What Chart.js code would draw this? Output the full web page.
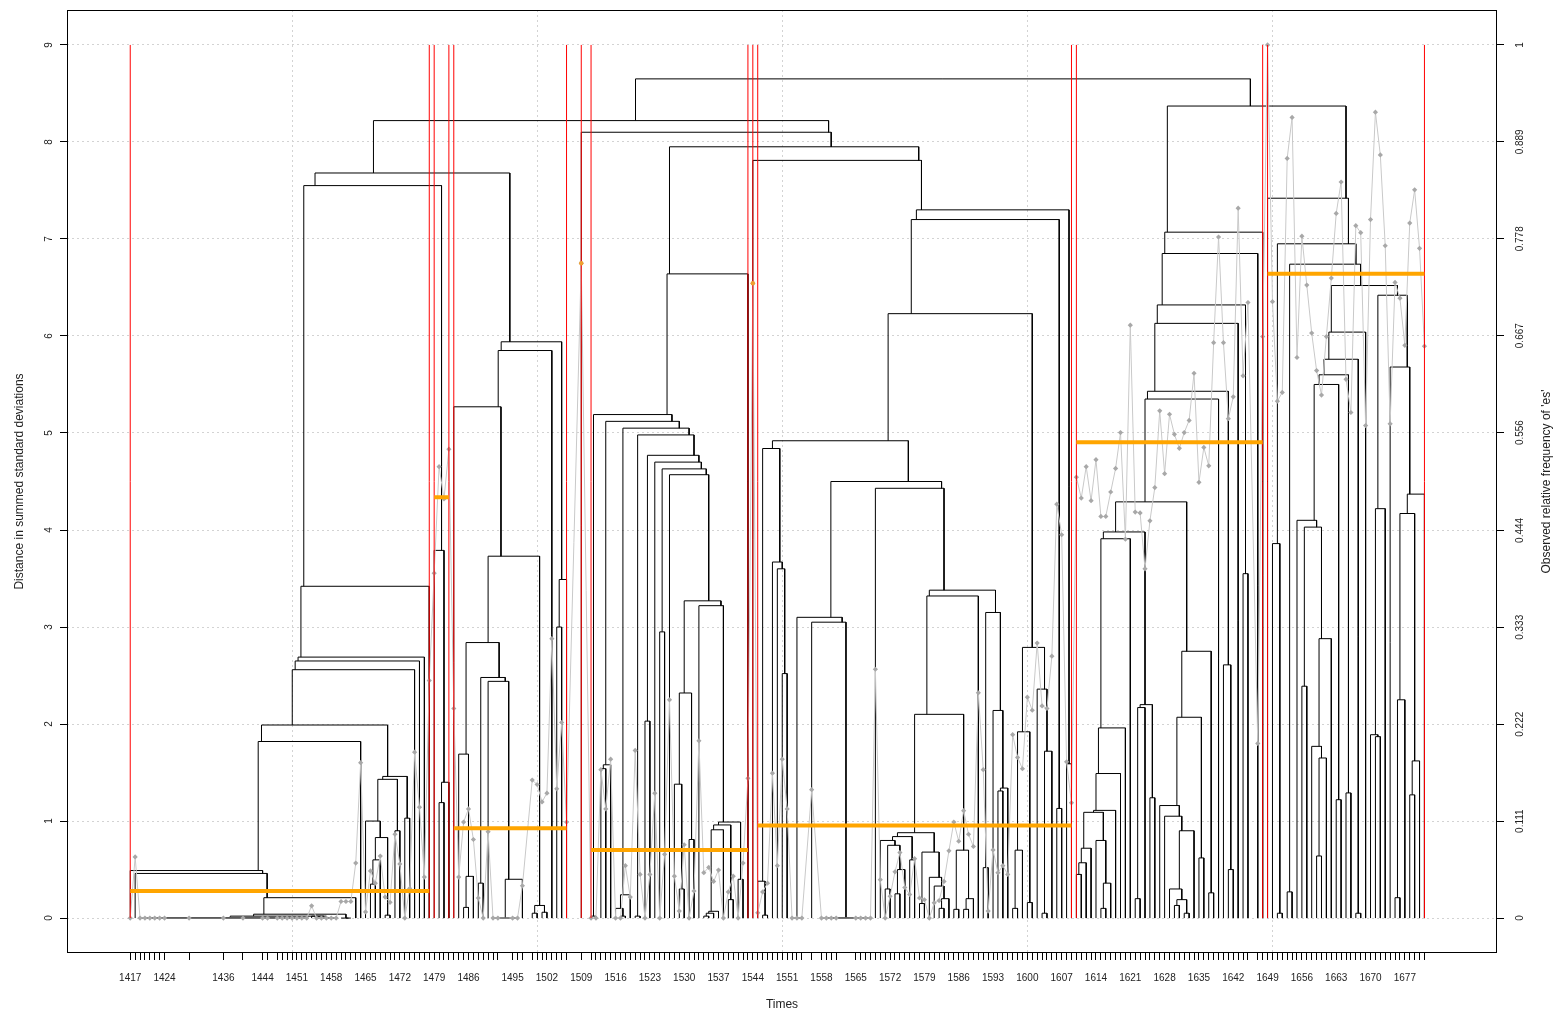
<!DOCTYPE html>
<html>
<head>
<meta charset="utf-8">
<script src="https://cdn.jsdelivr.net/npm/chart.js@4/dist/chart.umd.min.js"></script>
<style>
  html, body { margin: 0; padding: 0; background: #fff; }
  #wrap { width: 1556px; height: 1013px; }
</style>
</head>
<body>
<div id="wrap"><canvas id="c" width="1556" height="1013"></canvas></div>
<script>
// Observed years (dendrogram leaves), grouped by period
const years = [
  // 1417-1478
  1417,1418,1419,1420,1421,1422,1423,1424,1429,1436,1440,1444,1445,
  1447,1448,1449,1450,1451,1452,1453,1454,1455,1456,1457,1458,1459,1460,1461,1462,
  1463,1464,1465,1466,1467,1468,1469,1470,1471,1472,1473,1474,1475,1476,1477,1478,
  // 1479-1482
  1479,1480,1481,1482,
  // 1483-1506
  1483,1484,1485,1486,1487,1488,1489,1490,1491,1492,1495,1496,1497,1499,1500,1501,1502,1503,1504,1505,1506,
  // 1509
  1509,
  // 1511-1543
  1511,1512,1513,1514,1515,1516,1517,1518,1519,1520,1521,1522,1523,1524,1525,1526,1527,
  1528,1529,1530,1531,1532,1533,1534,1535,1536,1537,1538,1539,1540,1541,1542,1543,
  // 1544
  1544,
  // 1545-1609
  1545,1546,1547,1548,1549,1550,1551,1552,1553,1554,1556,1558,1559,1560,1561,1565,1566,1567,1568,
  1569,1570,1571,1572,1573,1574,1575,1576,1577,1578,1579,1580,1581,1582,1583,1584,1585,1586,1587,
  1588,1589,1590,1591,1592,1593,1594,1595,1596,1597,1598,1599,1600,1601,1602,1603,1604,1605,1606,
  1607,1608,1609,
  // 1610-1648
  1610,1611,1612,1613,1614,1615,1616,1617,1618,1619,1620,1621,1622,1623,1624,1625,1626,1627,1628,
  1629,1630,1631,1632,1633,1634,1635,1636,1637,1638,1639,1640,1641,1642,1643,1644,1645,1647,1648,
  // 1649-1681
  1649,1650,1651,1652,1653,1654,1655,1656,1657,1658,1659,1660,1661,1662,1663,1664,1665,1666,1667,
  1668,1669,1670,1671,1672,1673,1674,1675,1676,1677,1678,1679,1680,1681
];

// Observed relative frequency of 'es' per year
const freq = [
  0,0.07,0,0,0,0,0,0,0,0,0,0,0,
  0,0,0,0,0,0,0,0.014,0,0,0,0,0,0.019,0.019,0.019,
  0.063,0.178,0.007,0.054,0.04,0.071,0.024,0.018,0.096,0.062,0,0.034,0.19,0.127,0.047,0.272,
  0.395,0.517,0.48,0.537,
  0.24,0.047,0.11,0.125,0.09,0.023,0,0.099,0,0,0,0,0.037,0.158,0.153,0.133,0.143,0.32,0.148,0.224,0.11,
  0.75,
  0,0,0.17,0.125,0.182,0,0,0.06,0.024,0.192,0.05,0,0.05,0.143,0,0.073,0.25,
  0.048,0.008,0.084,0,0.031,0.203,0.052,0.058,0.042,0.055,0,0.03,0.048,0,0.063,0.16,
  0.727,
  0.006,0.03,0.04,0.166,0.06,0.182,0.125,0,0,0,0.147,0,0,0,0,0,0,0,0,
  0.285,0.044,0,0.025,0.053,0.075,0.035,0.027,0.068,0.023,0.021,0,0.0175,0.02,0.042,0.077,0.11,0.088,0.123,
  0.096,0.082,0.258,0.17,0.008,0.078,0.052,0.06,0.05,0.21,0.184,0.171,0.253,0.238,0.315,0.243,0.24,0.3,0.474,
  0.439,0.179,0.132,
  0.505,0.481,0.517,0.478,0.525,0.46,0.46,0.488,0.515,0.556,0.434,0.679,0.465,0.464,0.4,0.455,0.493,0.581,0.509,
  0.577,0.554,0.538,0.556,0.57,0.624,0.499,0.539,0.518,0.659,0.78,0.659,0.572,0.597,0.813,0.621,0.705,0.2,0.666,
  1.0,0.706,0.592,0.602,0.87,0.917,0.642,0.781,0.725,0.67,0.627,0.599,0.666,0.733,0.807,0.843,0.617,0.579,0.793,
  0.785,0.564,0.8,0.923,0.874,0.77,0.566,0.728,0.71,0.656,0.796,0.834,0.767,0.655
];

// Fusion height between each pair of neighbouring years (summed standard deviations)
const mergeHeights = [
  // within 1417-1478
  0.49,0.46,0,0,0,0,0,0,0,0,0,0,0,0,0,0,0,0,0,0.02,0.02,0,0,0,0,0.04,0,0,
  0.21,1.82,1.99,1.0,0.35,0.6,0.83,0.03,1.43,0.9,1.46,1.03,2.56,2.65,2.69,3.42,
  7.55,
  // within 1479-1482
  3.79,1.19,1.4,
  7.68,
  // within 1483-1506
  5.27,1.69,0.11,0.43,2.84,0.36,2.48,2.44,0,0,0,0.4,3.73,0.05,0.13,0.06,5.85,5.94,3.0,3.49,
  8.22,
  8.1,
  // within 1511-1543
  0.02,5.19,1.54,1.58,5.12,0.1,0.02,0.24,5.05,0.02,4.98,2.03,4.77,4.70,2.95,4.63,4.57,
  1.38,0.3,2.32,0.81,3.27,3.22,0.02,0.05,0.07,0.91,0.96,0.19,0.99,0.4,6.64,
  7.95,
  7.81,
  // within 1545-1609
  0.38,0.03,4.84,3.67,3.6,2.52,4.92,0,0,3.1,3.05,0,0,0,0,0,0,0,4.5,
  4.43,0.8,0.3,0.75,0.25,0.5,0.84,0.6,0.88,0.15,0.68,0.42,0.33,0.1,0.2,2.1,0.09,0.7,0.09,0.2,
  3.32,3.38,0.52,3.15,2.14,1.31,1.34,6.23,0.1,0.7,1.92,0.16,2.79,2.36,0.05,1.72,7.2,1.13,7.3,1.59,
  8.65,
  // within 1610-1648
  0.45,0.57,0.72,1.09,0.8,0.1,0.36,1.11,1.49,1.96,3.91,3.98,0.2,2.17,2.2,1.24,4.29,1.16,1.05,
  0.3,0.13,0.19,0.05,0.9,2.07,0.62,2.75,0.26,5.35,5.43,2.61,0.5,6.13,6.32,3.55,6.85,7.07,
  8.37,
  // within 1649-1681
  7.42,3.86,0.05,6.95,0.27,6.74,4.1,2.39,4.03,1.77,0.64,1.65,2.88,5.5,1.22,5.6,1.29,5.76,0.05,
  6.04,6.52,1.89,1.87,4.22,6.42,5.68,0.21,2.25,4.17,1.27,1.62,4.37
];

// Periods found by the clustering and their mean frequency
const periodStart = [1417, 1479, 1483, 1509, 1511, 1544, 1545, 1610, 1649];
const periodEnd   = [1478, 1482, 1506, 1509, 1543, 1544, 1609, 1648, 1681];
const periodMean  = [0.031, 0.482, 0.103, 0.75, 0.078, 0.727, 0.106, 0.545, 0.738];

// Axis labels
const xTickLabels = [1417,1424,1436,1444,1451,1458,1465,1472,1479,1486,1495,1502,1509,1516,1523,1530,1537,
  1544,1551,1558,1565,1572,1579,1586,1593,1600,1607,1614,1621,1628,1635,1642,1649,1656,1663,1670,1677];
const leftTickLabels = ['0','1','2','3','4','5','6','7','8','9'];
const rightTickLabels = ['0','0.111','0.222','0.333','0.444','0.556','0.667','0.778','0.889','1'];
const gridYears = [1450, 1500, 1550, 1600, 1650];
const boundaryTop = 9;

const FONT = '"Liberation Sans", Arial, Helvetica, sans-serif';

// Dendrogram: split each run of years at its largest fusion height; a node sits at the mean of its years
const dendroSegments = [];
function buildNode(lo, hi) {
  if (lo === hi) return { x: years[lo], h: 0, n: 1, s: years[lo] };
  let k = lo;
  for (let i = lo + 1; i < hi; i++) if (mergeHeights[i] > mergeHeights[k]) k = i;
  const a = buildNode(lo, k);
  const b = buildNode(k + 1, hi);
  const h = mergeHeights[k];
  dendroSegments.push(
    { x: a.x, y: a.h }, { x: a.x, y: h }, { x: b.x, y: h }, { x: b.x, y: b.h }, { x: b.x, y: null }
  );
  return { x: (a.s + b.s) / (a.n + b.n), h: h, n: a.n + b.n, s: a.s + b.s };
}
buildNode(0, years.length - 1);

const freqPoints = years.map((yr, i) => ({ x: yr, y: freq[i] }));

const meanSegments = [];
const meanDots = [];
periodStart.forEach((s, i) => {
  if (s === periodEnd[i]) meanDots.push({ x: s, y: periodMean[i] });
  else meanSegments.push({ x: s, y: periodMean[i] }, { x: periodEnd[i], y: periodMean[i] }, { x: periodEnd[i], y: null });
});

const boundarySegments = [];
[...new Set(periodStart.concat(periodEnd))].forEach(yr => {
  boundarySegments.push({ x: yr, y: 0 }, { x: yr, y: boundaryTop }, { x: yr, y: null });
});

function rotText(ctx, text, x, y) {
  ctx.save();
  ctx.translate(x, y);
  ctx.rotate(-Math.PI / 2);
  ctx.fillText(text, 0, 0);
  ctx.restore();
}

const frameAndSideText = {
  id: 'frameAndSideText',
  afterDraw(chart) {
    const { ctx, chartArea: a, scales } = chart;
    ctx.save();
    ctx.strokeStyle = '#000';
    ctx.lineWidth = 1;
    ctx.strokeRect(Math.round(a.left) + 0.5, Math.round(a.top) + 0.5,
                   Math.round(a.right - a.left) - 1, Math.round(a.bottom - a.top) - 1);
    ctx.fillStyle = '#222';
    ctx.textAlign = 'center';
    ctx.textBaseline = 'middle';
    ctx.font = '10px ' + FONT;
    leftTickLabels.forEach(t => rotText(ctx, t, 49, scales.y.getPixelForValue(Number(t))));
    rightTickLabels.forEach(t => rotText(ctx, t, 1520, scales.y1.getPixelForValue(Number(t))));
    ctx.font = '12px ' + FONT;
    const midY = (a.top + a.bottom) / 2;
    rotText(ctx, 'Distance in summed standard deviations', 20, midY);
    rotText(ctx, "Observed relative frequency of 'es'", 1547, midY);
    ctx.restore();
  }
};

new Chart(document.getElementById('c'), {
  type: 'line',
  data: {
    datasets: [
      { label: 'period mean', data: meanSegments, xAxisID: 'x', yAxisID: 'y1',
        borderColor: '#FFA500', borderWidth: 4, borderCapStyle: 'butt', pointRadius: 0, order: 1 },
      { label: 'single-year period', type: 'scatter', data: meanDots, xAxisID: 'x', yAxisID: 'y1',
        pointRadius: 2.2, pointBackgroundColor: '#F0A030', pointBorderWidth: 0, order: 1 },
      { label: 'period boundary', data: boundarySegments, xAxisID: 'x', yAxisID: 'y',
        borderColor: '#FF0000', borderWidth: 1, pointRadius: 0, order: 2 },
      { label: 'frequency', data: freqPoints, xAxisID: 'x', yAxisID: 'y1',
        borderColor: '#c9c9c9', borderWidth: 1, pointStyle: 'rectRot', pointRadius: 2.6,
        pointBackgroundColor: '#a8a8a8', pointBorderWidth: 0, tension: 0, order: 3 },
      { label: 'dendrogram', data: dendroSegments, xAxisID: 'x', yAxisID: 'y',
        borderColor: '#000', borderWidth: 1, pointRadius: 0, tension: 0, order: 4 }
    ]
  },
  options: {
    responsive: false,
    animation: false,
    devicePixelRatio: 1,
    events: [],
    layout: { padding: { top: 10, left: 0, right: 0, bottom: 0 } },
    plugins: { legend: { display: false }, tooltip: { enabled: false } },
    scales: {
      x: {
        type: 'linear', position: 'bottom', min: 1404.1, max: 1695.8,
        afterBuildTicks: s => { s.ticks = years.map(v => ({ value: v })); },
        afterFit: s => { s.height = 60; },
        ticks: {
          autoSkip: false, maxRotation: 0, minRotation: 0, padding: 12, color: '#222',
          font: { family: FONT, size: 10 },
          callback: v => (xTickLabels.includes(v) ? String(v) : '')
        },
        grid: { drawOnChartArea: false, drawTicks: true, tickLength: 7, tickColor: '#000', color: '#000' },
        border: { display: false },
        title: { display: true, text: 'Times', color: '#222', font: { family: FONT, size: 12 },
                 padding: { top: 0, bottom: 1 } }
      },
      x2: {
        type: 'linear', position: 'top', min: 1404.1, max: 1695.8,
        afterBuildTicks: s => { s.ticks = gridYears.map(v => ({ value: v })); },
        afterFit: s => { s.height = 0; },
        ticks: { display: false },
        grid: { drawOnChartArea: true, drawTicks: false, color: '#d3d3d3', lineWidth: 1 },
        border: { display: false, dash: [2, 3] }
      },
      y: {
        type: 'linear', position: 'left', min: -0.36, max: 9.36,
        afterBuildTicks: s => { s.ticks = leftTickLabels.map(t => ({ value: Number(t) })); },
        afterFit: s => { s.width = 67; },
        ticks: { display: false },
        grid: { drawOnChartArea: true, drawTicks: true, tickLength: 7, tickColor: '#000', color: '#d3d3d3' },
        border: { display: false, dash: [2, 3] }
      },
      y1: {
        type: 'linear', position: 'right', min: -0.04, max: 1.04,
        afterBuildTicks: s => { s.ticks = rightTickLabels.map(t => ({ value: Number(t) })); },
        afterFit: s => { s.width = 59; },
        ticks: { display: false },
        grid: { drawOnChartArea: false, drawTicks: true, tickLength: 7, tickColor: '#000', color: '#000' },
        border: { display: false }
      }
    }
  },
  plugins: [frameAndSideText]
});
</script>
</body>
</html>
